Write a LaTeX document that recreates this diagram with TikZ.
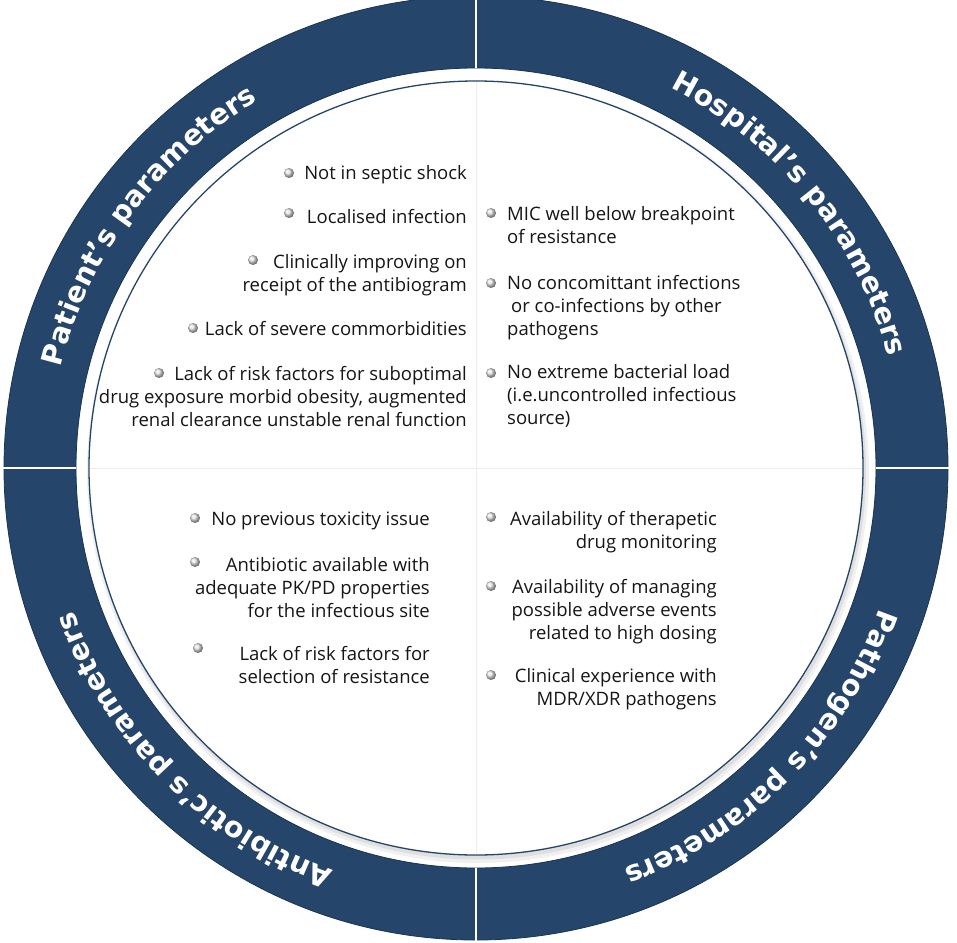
\documentclass[tikz,border=0pt]{standalone}
\usepackage{fontspec}
\setmainfont{Open Sans}
\newfontfamily\ringfont{DejaVu Sans}
\usetikzlibrary{decorations.text}
\definecolor{ringblue}{RGB}{37,69,106}
\definecolor{ringedge}{RGB}{26,52,84}
\definecolor{inktext}{RGB}{22,22,22}
\tikzset{
  >=latex,
  ringlabel/.style={
    decorate,
    decoration={text along path, text align=center, text color=white,
      text={|\ringfont\bfseries\fontsize{28.5}{28}\selectfont|#1}}
  },
}
\tikzstyle{every node}=[font=\fontsize{18.5}{23}\selectfont,text=inktext]
\tikzstyle{bullet}=[circle,inner sep=0pt,minimum size=10pt,shading=ball,ball color=gray!22]
\tikzstyle{itemr}=[anchor=north east,align=right,inner sep=0pt]
\tikzstyle{iteml}=[anchor=north west,align=left,inner sep=0pt]

\begin{document}
\begin{tikzpicture}[x=1pt,y=1pt]
        \useasboundingbox (-476,-474) rectangle (481,468);
        % ring
        \fill[ringblue,even odd rule] (0,0) circle[radius=472] (0,0) circle[radius=400];
        \draw[ringedge,line width=.8] (0,0) circle[radius=472] (0,0) circle[radius=400];
        \draw[white,line width=2] (0,400)--(0,473) (0,-400)--(0,-473)
        (-400,0)--(-473,0) (400,0)--(473,0);
        % disc with shadow
        \fill[gray!12] (2,-4) circle[radius=391];
        \fill[gray!25] (1.5,-3) circle[radius=388.5];
        \fill[white] (0,0) circle[radius=387];
        \draw[ringblue,line width=1.3] (0,0) circle[radius=387];
        \draw[gray!15,line width=1] (0,-386)--(0,386) (-386,0)--(386,0);
        % labels on the ring
        \path[ringlabel={Patient’s parameters}]
        (203.5:427) arc[start angle=203.5,end angle=83.5,radius=427];
        \path[ringlabel={Hospital’s parameters}]
        (99:427) arc[start angle=99,end angle=-21,radius=427];
        \path[ringlabel={Antibiotic’s parameters}]
        (285:427) arc[start angle=285,end angle=165,radius=427];
        \path[ringlabel={Pathogen’s parameters}]
        (15.5:427) arc[start angle=15.5,end angle=-104.5,radius=427];
        % top left
        \node[itemr] (pat1) at (-9,303) {Not in septic shock};
        \node[itemr] (pat2) at (-9,259) {Localised infection};
        \node[itemr] (pat3) at (-9,214) {Clinically improving on\\receipt of the antibiogram};
        \node[itemr] (pat4) at (-9,147) {Lack of severe commorbidities};
        \node[itemr] (pat5) at (-9,102) {Lack of risk factors for suboptimal\\drug exposure morbid obesity, augmented\\renal clearance unstable renal function};
        \node[bullet] (bpat1) at (-187,295) {};
        \node[bullet] (bpat2) at (-187,255) {};
        \node[bullet] (bpat3) at (-223,208) {};
        \node[bullet] (bpat4) at (-283,140) {};
        \node[bullet] (bpat5) at (-317,95) {};
        % top right
        \node[iteml] (hos1) at (31,262) {MIC well below breakpoint\\of resistance};
        \node[iteml] (hos2) at (31,193) {No concomittant infections\\\hspace{4pt}or co-infections by other\\pathogens};
        \node[iteml] (hos3) at (31,104) {No extreme bacterial load\\(i.e.uncontrolled infectious\\source)};
        \node[bullet] (bhos1) at (15,255) {};
        \node[bullet] (bhos2) at (15,185) {};
        \node[bullet] (bhos3) at (15,95) {};
        % bottom left
        \node[itemr] (ant1) at (-46,-44) {No previous toxicity issue};
        \node[itemr] (ant2) at (-46,-89) {Antibiotic available with\\adequate PK/PD properties\\for the infectious site};
        \node[itemr] (ant3) at (-46,-178) {Lack of risk factors for\\selection of resistance};
        \node[bullet] (bant1) at (-281,-50) {};
        \node[bullet] (bant2) at (-281,-94) {};
        \node[bullet] (bant3) at (-278,-180) {};
        % bottom right
        \node[itemr] (pth1) at (241,-43) {Availability of therapetic\\drug monitoring};
        \node[itemr] (pth2) at (241,-111) {Availability of managing\\possible adverse events\\related to high dosing};
        \node[itemr] (pth3) at (241,-200) {Clinical experience with\\MDR/XDR pathogens};
        \node[bullet] (bpth1) at (15,-49) {};
        \node[bullet] (bpth2) at (15,-118) {};
        \node[bullet] (bpth3) at (15,-207) {};
      \end{tikzpicture}
\end{document}
